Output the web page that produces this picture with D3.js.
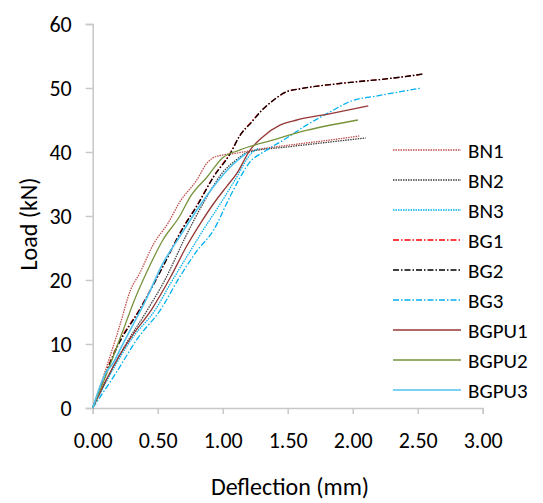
<!DOCTYPE html>
<meta charset="utf-8">
<style>
  body { margin: 0; background: #fff; }
  text { font-family: Carlito, Calibri, Lato, sans-serif; fill: #000; }
  .axis path, .axis line { stroke: #c8c8c8; stroke-width: 1.5px; }
  .line { fill: none; }
</style>
<body>
<script src="https://d3js.org/d3.v7.min.js"></script>
<script>
  // series: [deflection (mm), load (kN)]
  var BN1 = [[0,0],[0.1,6],[0.21,13],[0.29,18.4],[0.36,21],[0.47,25.7],[0.58,28.9],[0.67,32.2],[0.8,35.6],[0.88,38.3],[0.95,39.3],[1.1,39.8],[1.3,40.5],[1.6,41.3],[1.8,41.8],[2.05,42.5]];
  var BN2 = [[0,0],[0.12,5],[0.25,9.8],[0.42,15.3],[0.55,19.8],[0.72,27],[0.85,32],[1.0,36.8],[1.1,38.7],[1.2,40],[1.5,40.8],[1.8,41.5],[2.1,42.2]];
  var BN3 = [[0,0],[0.15,5.8],[0.3,10.8],[0.48,15.3],[0.6,19.5],[0.75,24.5],[0.85,27.8],[1.0,32.5],[1.1,35.8],[1.22,39.8],[1.28,40.6]];
  var BG1 = [[0,0],[0.2,10.2],[0.36,15.4],[0.5,20.6],[0.7,28.4],[0.8,31.6],[0.93,36.2],[1.06,39.9],[1.13,42.5],[1.22,44.7],[1.3,46.5],[1.39,48.1],[1.49,49.4],[1.6,49.9],[1.9,50.7],[2.29,51.5],[2.55,52.2]];
  var BG2 = [[0,0],[0.2,10],[0.36,15.3],[0.5,20.5],[0.7,28.3],[0.8,31.5],[0.93,36.1],[1.06,39.8],[1.13,42.5],[1.22,44.6],[1.3,46.5],[1.39,48.1],[1.49,49.4],[1.6,49.9],[1.9,50.7],[2.29,51.5],[2.55,52.2]];
  var BG3 = [[0,0],[0.18,5.5],[0.35,11],[0.52,15.3],[0.67,20.5],[0.8,24.5],[0.93,27.8],[1.06,33.2],[1.12,35.5],[1.2,38.2],[1.33,40.2],[1.47,41.9],[1.645,44.2],[1.83,46.3],[1.98,47.9],[2.2,48.8],[2.53,50]];
  var BGPU1 = [[0,0],[0.1,4.2],[0.2,8],[0.3,11.2],[0.45,15.3],[0.6,20.5],[0.72,25.2],[0.83,28.9],[0.95,32.5],[1.03,34.6],[1.11,36.7],[1.21,40.3],[1.31,42.4],[1.44,44.2],[1.57,45],[1.83,46],[2.12,47.2]];
  var BGPU2 = [[0,0],[0.1,5],[0.235,12.2],[0.31,16.3],[0.415,21.2],[0.54,26.25],[0.67,30],[0.75,33],[0.88,36.1],[1.0,39.1],[1.13,40.3],[1.39,41.9],[1.65,43.4],[2.04,45]];
  var BGPU3 = [[0,0],[0.05,3],[0.1,5.5],[0.15,6.8],[0.22,9.5],[0.31,13],[0.4,16.5],[0.54,22.6],[0.67,26.8],[0.8,30.9],[0.93,34.6],[1.06,37.7],[1.18,39.8]];

  var names = ["BN1", "BN2", "BN3", "BG1", "BG2", "BG3", "BGPU1", "BGPU2", "BGPU3"];
  var values = [BN1, BN2, BN3, BG1, BG2, BG3, BGPU1, BGPU2, BGPU3];
  var xTicks = [0, 0.5, 1, 1.5, 2, 2.5, 3];
  var yTicks = [0, 10, 20, 30, 40, 50, 60];

  var styles = [
    { color: "#c0504d", dash: "1.5,1", width: 1.3 },
    { color: "#404040", dash: "1.5,1", width: 1.3 },
    { color: "#00b0f0", dash: "1.5,1", width: 1.3 },
    { color: "#ff0000", dash: "6,2,1.5,2", width: 1.3 },
    { color: "#000000", dash: "6,2,1.5,2", width: 1.3 },
    { color: "#00b0f0", dash: "6,2,1.5,2", width: 1.3 },
    { color: "#953735", dash: null, width: 1.3 },
    { color: "#77933c", dash: null, width: 1.3 },
    { color: "#4fc3f0", dash: null, width: 1.6 }
  ];

  var width = 543, height = 503;
  var x = d3.scaleLinear().domain([0, 3]).range([92.7, 482.7]);
  var y = d3.scaleLinear().domain([0, 60]).range([408, 24]);

  var svg = d3.select("body").append("svg")
    .attr("width", width)
    .attr("height", height);

  // axes
  svg.append("g")
    .attr("class", "axis")
    .attr("transform", "translate(0," + y(0) + ")")
    .call(d3.axisBottom(x).tickValues(xTicks).tickFormat(d3.format(".2f")).tickSize(6).tickPadding(18))
    .call(function (g) { g.selectAll("text").style("font-size", "22px"); });

  svg.append("g")
    .attr("class", "axis")
    .attr("transform", "translate(" + x(0) + ",0)")
    .call(d3.axisLeft(y).tickValues(yTicks).tickSize(7).tickPadding(14))
    .call(function (g) { g.selectAll("text").style("font-size", "22px"); });

  // lines
  var line = d3.line()
    .x(function (d) { return x(d[0]); })
    .y(function (d) { return y(d[1]); })
    .curve(d3.curveMonotoneX);

  values.forEach(function (v, i) {
    svg.append("path")
      .datum(v)
      .attr("class", "line")
      .attr("stroke", styles[i].color)
      .attr("stroke-width", styles[i].width)
      .attr("stroke-dasharray", styles[i].dash)
      .attr("d", line);
  });

  // legend
  var legend = svg.append("g");
  names.forEach(function (n, i) {
    var ly = 150 + i * 30;
    legend.append("line")
      .attr("x1", 393).attr("x2", 461)
      .attr("y1", ly).attr("y2", ly)
      .attr("stroke", styles[i].color)
      .attr("stroke-width", styles[i].width)
      .attr("stroke-dasharray", styles[i].dash);
    legend.append("text")
      .attr("x", 468).attr("y", ly)
      .attr("dy", "0.36em")
      .style("font-size", "21px")
      .text(n);
  });

  // axis titles
  svg.append("text")
    .attr("transform", "translate(37,224) rotate(-90)")
    .attr("text-anchor", "middle")
    .style("font-size", "24px")
    .text("Load (kN)");

  svg.append("text")
    .attr("x", 290).attr("y", 495)
    .attr("text-anchor", "middle")
    .style("font-size", "24px")
    .text("Deflection (mm)");
</script>
</body>
